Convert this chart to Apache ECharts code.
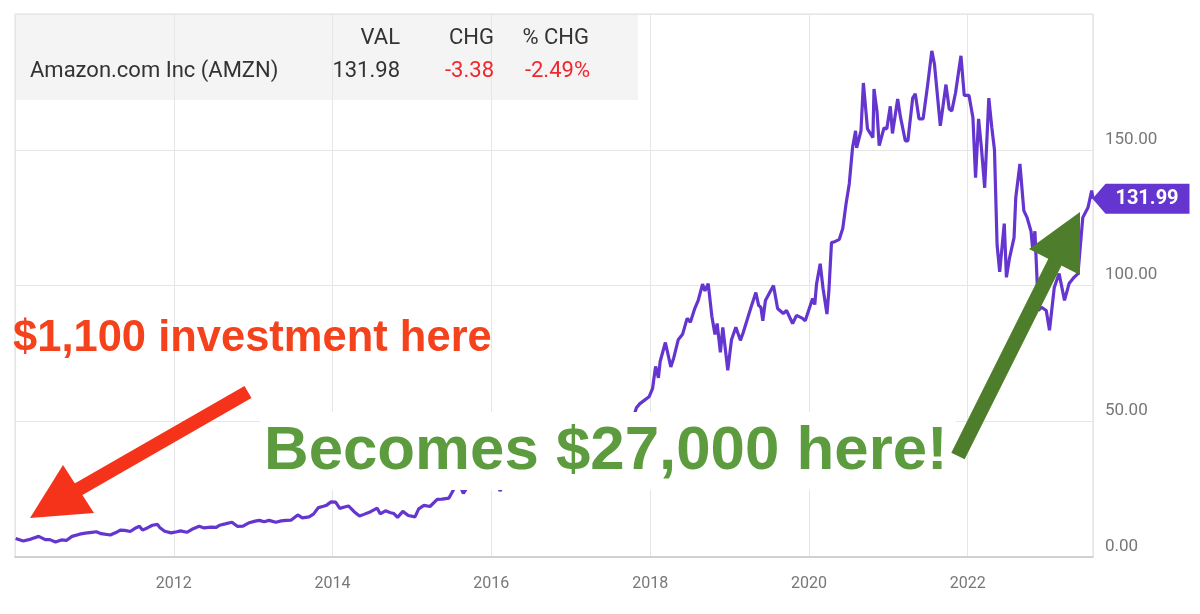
<!DOCTYPE html>
<html>
<head>
<meta charset="utf-8">
<script src="https://cdn.jsdelivr.net/npm/echarts@6/dist/echarts.min.js"></script>
<style>
html,body{margin:0;padding:0;background:#fff;}
#chart{width:1200px;height:614px;}
</style>
</head>
<body>
<div id="chart"></div>
<script>
// ---- data (split-adjusted AMZN closing price) ----
const dates = [
"2010-01-04","2010-02-08","2010-03-15","2010-04-20","2010-05-20","2010-06-10","2010-07-06","2010-08-02","2010-08-25","2010-09-20","2010-10-25","2010-11-20","2010-12-20",
"2011-01-10","2011-02-01","2011-03-15","2011-04-10","2011-04-30","2011-05-20","2011-06-15","2011-07-10","2011-07-27","2011-08-10","2011-09-01","2011-09-25","2011-10-18","2011-10-28","2011-11-20","2011-12-20",
"2012-01-15","2012-02-01","2012-03-01","2012-03-25","2012-04-27","2012-05-20","2012-06-20","2012-07-15","2012-07-30","2012-08-25","2012-09-25","2012-10-20","2012-11-15","2012-12-10",
"2013-01-10","2013-01-30","2013-02-20","2013-03-15","2013-04-15","2013-05-10","2013-06-01","2013-06-25","2013-07-25","2013-08-15","2013-09-15","2013-10-05","2013-10-28","2013-11-20","2013-12-05","2013-12-25",
"2014-01-15","2014-02-03","2014-02-25","2014-03-15","2014-04-10","2014-05-05","2014-05-25","2014-06-25","2014-07-25","2014-08-08","2014-09-01","2014-09-25","2014-10-10","2014-10-27","2014-11-20","2014-12-15",
"2015-01-15","2015-02-01","2015-02-25","2015-03-25","2015-04-27","2015-05-20","2015-06-20","2015-07-24","2015-08-10","2015-08-25","2015-09-15","2015-10-10","2015-10-25","2015-11-20","2015-12-20",
"2016-01-10","2016-02-10","2016-03-10","2016-04-10","2016-04-30","2016-05-25","2016-06-25","2016-07-25","2016-08-25","2016-09-25","2016-10-25","2016-11-05","2016-11-25","2016-12-25",
"2017-01-25","2017-02-25","2017-03-25","2017-04-25","2017-05-25","2017-06-10","2017-06-28","2017-07-27","2017-08-20","2017-09-15","2017-10-10","2017-10-30","2017-11-15","2017-12-05","2017-12-27",
"2018-01-12","2018-01-26","2018-02-08","2018-02-16","2018-03-12","2018-04-06","2018-04-20","2018-05-10","2018-05-30","2018-06-20","2018-07-05","2018-07-25","2018-08-10","2018-08-30","2018-09-10","2018-09-25","2018-10-12","2018-10-20","2018-10-26","2018-11-05","2018-11-20","2018-12-01","2018-12-24",
"2019-01-10","2019-01-30","2019-02-20","2019-03-05","2019-04-08","2019-05-02","2019-05-15","2019-05-25","2019-06-03","2019-06-15","2019-07-22","2019-08-10","2019-09-05","2019-09-20","2019-10-18","2019-11-05","2019-12-01","2019-12-15",
"2020-01-18","2020-01-28","2020-02-05","2020-02-22","2020-03-06","2020-03-24","2020-04-02","2020-04-14","2020-04-25","2020-05-20","2020-06-05","2020-06-20","2020-07-05","2020-07-20","2020-08-03","2020-08-08","2020-08-28","2020-09-08","2020-09-27","2020-10-22","2020-10-27","2020-11-10","2020-11-20","2020-12-12","2020-12-25",
"2021-01-10","2021-01-20","2021-02-13","2021-02-26","2021-03-20","2021-04-01","2021-04-23","2021-05-05","2021-05-22","2021-06-10","2021-07-01","2021-07-20","2021-08-01","2021-08-28","2021-09-23","2021-10-08","2021-10-20","2021-11-06","2021-12-01","2021-12-16",
"2022-01-07","2022-01-25","2022-02-06","2022-02-20","2022-03-05","2022-03-20","2022-04-08","2022-04-22","2022-05-04","2022-05-16","2022-05-28","2022-06-18","2022-06-28","2022-07-12","2022-08-02","2022-08-10","2022-08-29","2022-09-16","2022-10-01","2022-10-19","2022-10-26","2022-11-06","2022-11-22","2022-12-06","2022-12-28",
"2023-01-12","2023-02-03","2023-02-25","2023-03-22","2023-04-12","2023-05-05","2023-05-23","2023-06-14","2023-07-08","2023-07-25","2023-07-31"
];
const prices = [
6.8,5.9,6.6,7.6,6.4,6.4,5.5,6.3,6.1,7.6,8.4,8.8,9.1,
9.3,8.6,8.1,9.0,9.9,9.8,9.4,10.7,11.3,9.9,10.7,11.7,12.0,10.9,9.5,8.9,
9.3,9.6,9.1,10.2,11.3,10.7,11.0,10.9,11.7,12.2,12.8,11.3,11.4,12.5,
13.2,13.5,13.0,13.5,12.8,13.3,13.5,13.6,15.5,14.4,14.8,15.8,18.2,18.7,19.1,20.3,
20.2,17.9,18.4,18.8,16.7,15.1,15.7,16.7,18.0,15.9,17.0,16.3,16.0,14.6,16.8,15.3,
14.8,17.7,19.0,18.6,21.2,21.3,21.7,26.6,26.4,23.4,26.0,27.1,31.3,33.4,33.0,
30.5,24.3,28.5,31.5,32.9,35.3,35.0,37.5,38.4,41.0,40.8,37.0,37.8,38.0,
41.7,42.5,42.9,45.5,49.9,47.2,48.5,52.2,47.8,49.4,50.0,55.0,56.5,57.7,59.0,
62.0,70.2,66.0,72.0,79.0,70.0,73.5,80.0,82.0,87.9,86.5,91.5,94.5,100.5,98.0,100.7,88.5,88.0,82.0,86.0,75.4,84.6,68.8,
80.0,84.6,79.8,82.7,91.5,97.4,92.6,92.0,87.0,94.5,100.0,91.5,89.7,90.8,86.0,89.0,88.0,87.0,
95.2,93.0,100.5,108.0,99.0,89.5,98.0,115.8,116.0,117.0,121.0,130.0,137.5,150.7,157.0,150.7,157.0,174.6,157.7,154.5,172.4,164.0,151.5,158.0,157.7,
166.0,156.0,168.7,162.0,153.3,153.3,169.0,170.6,161.4,161.4,174.0,186.4,181.6,158.8,174.0,165.0,164.3,171.0,184.6,170.0,
170.0,161.8,139.7,161.4,150.7,136.0,169.0,158.0,150.0,115.0,105.0,122.8,103.0,110.0,117.6,132.4,144.8,127.6,125.0,120.0,114.0,120.0,90.8,92.0,90.8,
83.5,99.3,104.4,94.5,100.7,103.0,104.4,125.0,128.7,135.0,131.99
];
const yTicks = [0, 50, 100, 150, 200];
const legendHeaders = ["VAL", "CHG", "% CHG"];
const legendName = "Amazon.com Inc (AMZN)";
const legendValues = ["131.98", "-3.38", "-2.49%"];
const noteInvest = "$1,100 investment here";
const noteResult = "Becomes $27,000 here!";

// ---- helpers ----
function decYear(d) {
  const p = d.split('-').map(Number);
  const t = Date.UTC(p[0], p[1] - 1, p[2]);
  const s = Date.UTC(p[0], 0, 1), e = Date.UTC(p[0] + 1, 0, 1);
  return p[0] + (t - s) / (e - s);
}
const xs = dates.map(decYear);
const seriesData = xs.map((x, i) => [x, prices[i]]);
const lastX = xs[xs.length - 1];
const lastY = prices[prices.length - 1];

const chart = echarts.init(document.getElementById('chart'), null, {renderer: 'canvas'});
const purple = '#6436cf';
const legendFont = '22px Roboto';

chart.setOption({
  backgroundColor: '#ffffff',
  animation: false,
  grid: {left: 15, right: 107, top: 14, bottom: 57, show: true, borderColor: '#dddddd', borderWidth: 1, backgroundColor: 'transparent'},
  xAxis: {
    type: 'value', min: 2010, max: lastX, interval: 2,
    axisLine: {show: true, lineStyle: {color: '#c8c8c8', width: 1.5}},
    axisTick: {show: false},
    splitLine: {show: true, lineStyle: {color: '#e6e6e6', width: 1}},
    axisLabel: {showMinLabel: false, showMaxLabel: false, color: '#777', fontSize: 16, fontFamily: 'Roboto', margin: 19,
      formatter: v => String(Math.round(v))}
  },
  yAxis: {
    type: 'value', position: 'right', min: yTicks[0], max: yTicks[yTicks.length - 1], interval: yTicks[1] - yTicks[0],
    axisLine: {show: false}, axisTick: {show: false},
    splitLine: {show: true, lineStyle: {color: '#e6e6e6', width: 1}},
    axisLabel: {showMaxLabel: false, color: '#777', fontSize: 17, fontFamily: 'Roboto', margin: 12,
      verticalAlign: 'bottom', padding: [0, 0, 2, 0],
      formatter: v => v.toFixed(2)}
  },
  series: [{
    type: 'line', data: seriesData, showSymbol: false, symbol: 'none', silent: true,
    lineStyle: {color: purple, width: 3.2}, z: 3,
    markPoint: {
      silent: true,
      symbol: 'path://M0,15 L13,0 L97,0 L97,30 L13,30 Z',
      symbolSize: [97, 30], symbolKeepAspect: false, symbolOffset: [48, 0],
      itemStyle: {color: purple},
      label: {show: true, position: 'inside', offset: [6, 0], color: '#fff', fontSize: 20, fontWeight: 'bold', fontFamily: 'Roboto',
        formatter: p => Number(p.value).toFixed(2)},
      data: [{coord: [lastX, lastY], value: lastY}]
    }
  }],
  graphic: [
    // legend box
    {type: 'rect', shape: {x: 15, y: 14, width: 623, height: 86}, style: {fill: '#f4f4f4'}, z: -1, silent: true},
    {type: 'text', x: 400, y: 38, style: {text: legendHeaders[0], font: legendFont, fill: '#333', align: 'right', verticalAlign: 'middle'}, z: 20},
    {type: 'text', x: 494, y: 38, style: {text: legendHeaders[1], font: legendFont, fill: '#333', align: 'right', verticalAlign: 'middle'}, z: 20},
    {type: 'text', x: 589, y: 38, style: {text: legendHeaders[2], font: legendFont, fill: '#333', align: 'right', verticalAlign: 'middle'}, z: 20},
    {type: 'text', x: 30, y: 71, style: {text: legendName, font: legendFont, fill: '#333', align: 'left', verticalAlign: 'middle'}, z: 20},
    {type: 'text', x: 400, y: 71, style: {text: legendValues[0], font: legendFont, fill: '#333', align: 'right', verticalAlign: 'middle'}, z: 20},
    {type: 'text', x: 494, y: 71, style: {text: legendValues[1], font: legendFont, fill: '#f0282d', align: 'right', verticalAlign: 'middle'}, z: 20},
    {type: 'text', x: 590, y: 71, style: {text: legendValues[2], font: legendFont, fill: '#f0282d', align: 'right', verticalAlign: 'middle'}, z: 20},
    // red annotation
    {type: 'text', x: 13, y: 339, style: {text: noteInvest, font: 'bold 43.5px "Liberation Sans"', fill: '#f4421c', align: 'left', verticalAlign: 'middle'}, z: 30},
    {type: 'line', shape: {x1: 248, y1: 392, x2: 72, y2: 493}, style: {stroke: '#f5331b', lineWidth: 14}, z: 30},
    {type: 'polygon', shape: {points: [[30, 518], [63, 465], [94, 513]]}, style: {fill: '#f5331b'}, z: 30},
    // green annotation
    {type: 'rect', shape: {x: 260, y: 412, width: 696, height: 78}, style: {fill: '#ffffff'}, z: 25},
    {type: 'text', x: 264, y: 452, style: {text: noteResult, font: 'bold 61.8px "Liberation Sans"', fill: '#5c9b3e', align: 'left', verticalAlign: 'middle'}, z: 30},
    {type: 'line', shape: {x1: 958, y1: 456, x2: 1057, y2: 258}, style: {stroke: '#4e7d2c', lineWidth: 15}, z: 30},
    {type: 'polygon', shape: {points: [[1080, 212], [1029, 249], [1080, 275]]}, style: {fill: '#4e7d2c'}, z: 30}
  ]
});
</script>
</body>
</html>
